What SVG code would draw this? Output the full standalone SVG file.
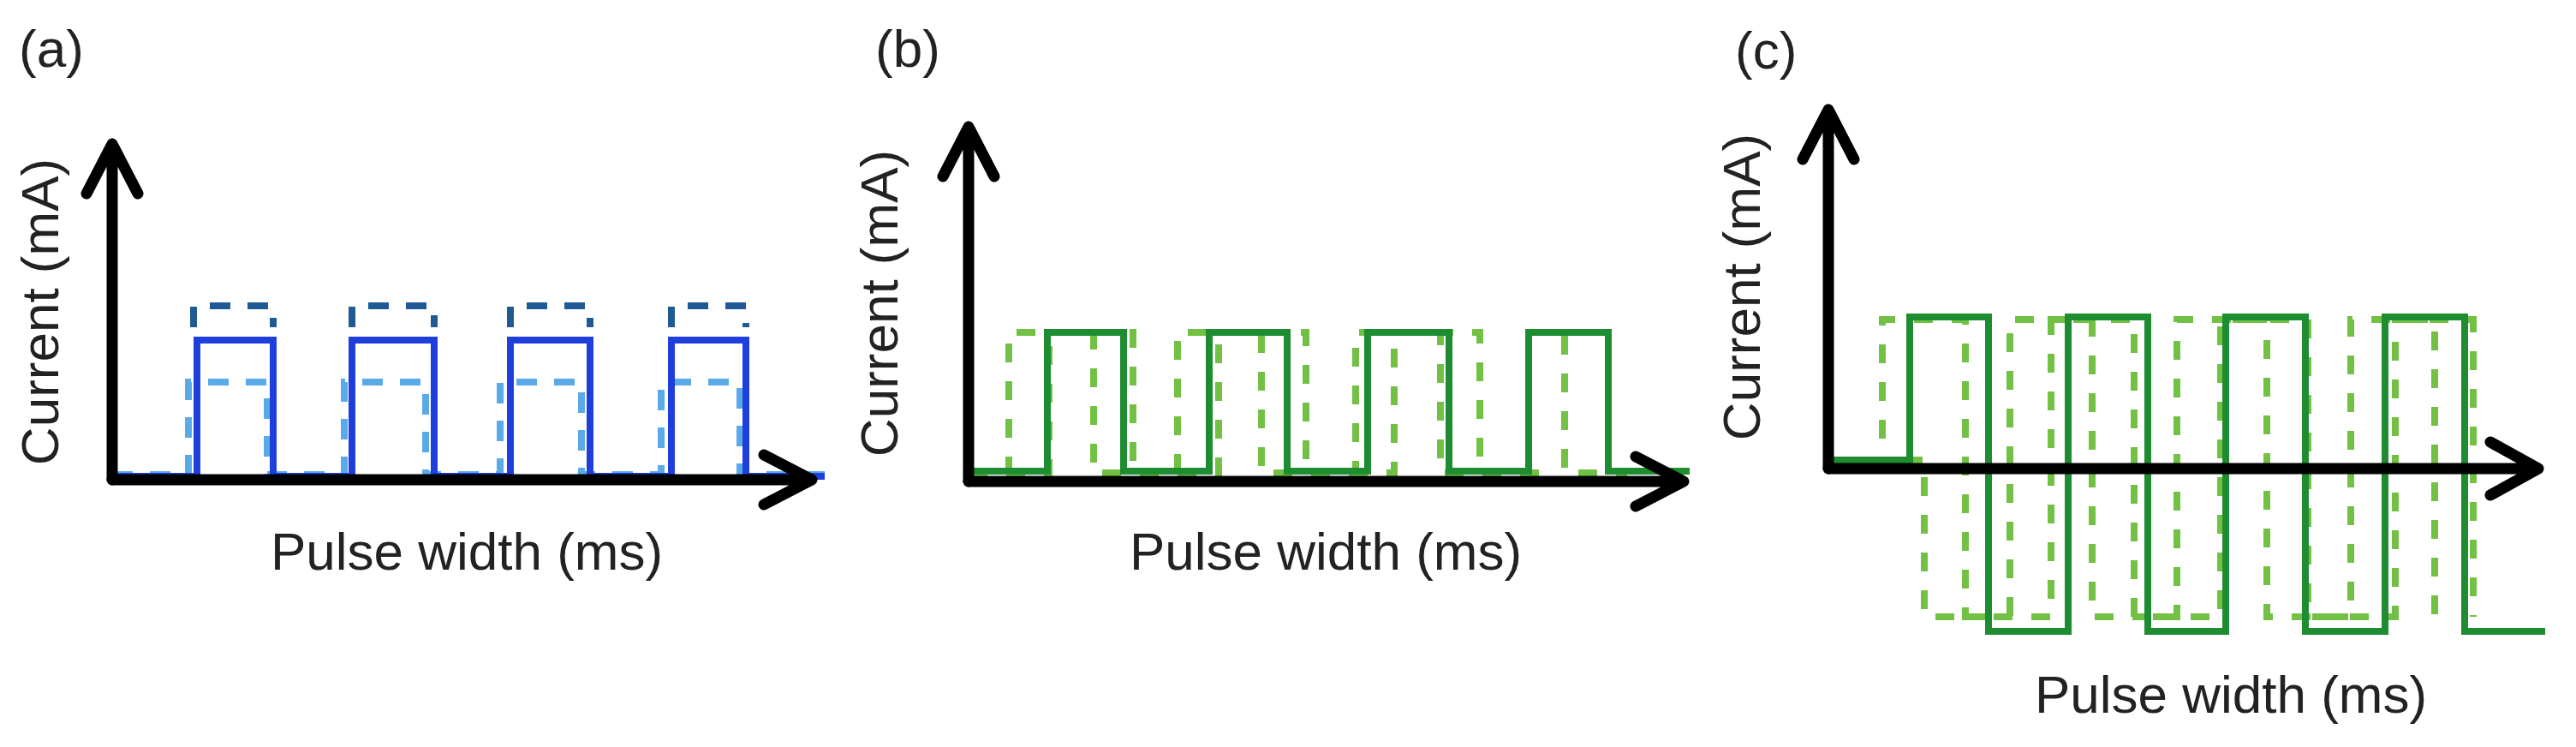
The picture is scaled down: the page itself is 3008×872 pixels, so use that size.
<svg xmlns="http://www.w3.org/2000/svg" width="3008" height="872" viewBox="0 0 3008 872">
<style>
text{font-family:"Liberation Sans",Arial,sans-serif;fill:#222;font-size:62px}
.ax{fill:none;stroke:#000;stroke-width:13;stroke-linecap:round;stroke-linejoin:round}
.w{fill:none;stroke-width:8;stroke-linejoin:miter}
.bs{stroke:#1f3fdc}
.bd{stroke:#1f5a94;stroke-dasharray:24 20}
.bl{stroke:#5aaae8;stroke-dasharray:24 20}
.gs{stroke:#1e8c30}
.gl{stroke:#72c144;stroke-dasharray:22 22}
</style>
<rect width="3008" height="872" fill="#fff"/>
<g id="panel-a">
<text x="22" y="78">(a)</text>
<text transform="translate(68,364) rotate(-90)" text-anchor="middle">Current (mA)</text>
<text x="545" y="665" text-anchor="middle">Pulse width (ms)</text>
<path class="w bl" d="M131,554 H220 V446 H312 V554 H402 V446 H497 V554 H584 V446 H679 V554 H772 V446 H864 V554 H963"/>
<path class="w bs" d="M131,556 H230 V397 H319 V556 H411 V397 H507 V556 H596 V397 H689 V556 H784 V397 H871 V556 H963"/>
<path class="w bd" d="M226,382 V357 H319 V382 M411,382 V357 H507 V382 M596,382 V357 H689 V382 M784,382 V357 H871 V382"/>
</g>
<g id="panel-b">
<text x="1022" y="78">(b)</text>
<text transform="translate(1048,354) rotate(-90)" text-anchor="middle">Current (mA)</text>
<text x="1548" y="665" text-anchor="middle">Pulse width (ms)</text>
<path class="w gl" d="M1131,552 H1178 V388 H1277 V552 H1375 V388 H1473 V552 H1583 V388 H1682 V552 H1785 V388 H1827 V552 H1900"/>
<path class="w gl" d="M1131,552 H1225 V388 H1323 V552 H1423 V388 H1525 V552 H1628 V388 H1728 V552 H1800"/>
<path class="w gs" d="M1131,550 H1223 V388 H1312 V550 H1412 V388 H1503 V550 H1597 V388 H1692 V550 H1785 V388 H1878 V550 H1973"/>
</g>
<g id="panel-c">
<text x="2026" y="80">(c)</text>
<text transform="translate(2055,335) rotate(-90)" text-anchor="middle">Current (mA)</text>
<text x="2605" y="832" text-anchor="middle">Pulse width (ms)</text>
<path class="w gl" d="M2135,537 H2198 V373 H2295 V720 H2395 V373 H2492 V720 H2593 V373 H2695 V720 H2797 V373 H2888 V720"/>
<path class="w gl" d="M2135,537 H2247 V720 H2347 V373 H2443 V720 H2542 V373 H2647 V720 H2745 V373 H2843 V720"/>
<path class="w gs" d="M2135,537 H2230 V370 H2322 V737 H2415 V370 H2508 V737 H2599 V370 H2692 V737 H2785 V370 H2878 V737 H2972"/>
</g>
<g id="connectors">
<path class="ax" d="M131,560 V168 M101,226 L131,168 L161,226"/>
<path class="ax" d="M131,560 H948 M892,531 L948,560 L892,589"/>
<path class="ax" d="M1131,562 V148 M1101,206 L1131,148 L1161,206"/>
<path class="ax" d="M1131,562 H1966 M1910,533 L1966,562 L1910,591"/>
<path class="ax" d="M2135,547 V128 M2105,186 L2135,128 L2165,186"/>
<path class="ax" d="M2135,547 H2964 M2908,516 L2964,547 L2908,578"/>
</g>
</svg>
